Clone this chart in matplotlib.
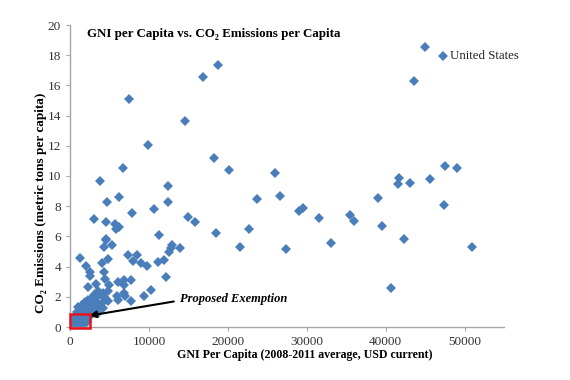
import matplotlib
matplotlib.use("Agg")
import matplotlib.pyplot as plt
from matplotlib.patches import Rectangle

# GNI per capita (USD) and CO2 emissions per capita (metric tons)
gni = [
    47300, 44980, 43550, 47500, 49040, 41700, 41560, 43130, 45580, 39030,
    47350, 35530, 35990, 39500, 42320, 50900, 40730,
    18740, 16880, 18230, 20130, 26040, 7470, 14600, 9875, 6670, 3800,
    12370, 6240, 4720, 12440, 7810, 10630, 3000, 4520, 15000, 15800,
    5650, 6240, 5780, 11310, 4560, 23760, 26670, 29080, 29540, 31520,
    18450, 22700, 21560, 27310, 33130,
    4600, 5270, 4260, 12870, 12790, 13890, 12570, 1310, 7300, 8440,
    4770, 8020, 8990, 11100, 11860, 4010, 1990, 9710, 2570, 2530,
    4260, 4470, 12150, 3250, 6120, 6840, 7760, 2320, 4940, 6880,
    10250, 9370, 7720, 6800, 6960, 5910, 6120, 4770, 4140, 3500,
    3080, 2750, 3580, 4430, 4850, 4010, 3170, 2320, 1900, 2660,
    3420, 1990, 1480, 1050, 1390, 2110, 2950, 850, 1680, 2530,
    3580, 630, 210, 1050, 420,
    300, 500, 700, 900, 1100, 1300, 1500, 1700, 1900, 2100,
    400, 800, 1200, 1600, 2000, 2300, 600, 1000, 1400, 1800,
    2200, 250, 750, 1250, 1750, 3000, 3300, 2800, 3800, 4200,
]
co2 = [
    17.98, 18.55, 16.30, 10.65, 10.56, 9.86, 9.44, 9.55, 9.79, 8.51,
    8.09, 7.43, 6.99, 6.66, 5.84, 5.28, 2.55,
    17.34, 16.57, 11.20, 10.41, 10.21, 15.09, 13.63, 12.02, 10.50, 9.70,
    9.32, 8.62, 8.26, 8.29, 7.58, 7.83, 7.12, 6.94, 7.27, 6.95,
    6.79, 6.61, 6.50, 6.06, 5.84, 8.46, 8.69, 7.70, 7.91, 7.20,
    6.21, 6.46, 5.28, 5.15, 5.53,
    5.73, 5.40, 5.31, 5.46, 5.24, 5.24, 4.95, 4.56, 4.74, 4.80,
    4.52, 4.40, 4.25, 4.32, 4.47, 4.25, 4.07, 4.03, 3.63, 3.41,
    3.66, 3.19, 3.30, 2.88, 2.97, 3.10, 3.10, 2.66, 2.75, 2.75,
    2.48, 2.04, 1.75, 2.26, 2.04, 2.04, 1.77, 2.37, 2.26, 2.37,
    2.15, 1.93, 2.04, 1.93, 1.71, 1.60, 1.71, 1.82, 1.64, 1.42,
    1.34, 1.27, 1.49, 1.34, 1.11, 1.05, 1.05, 0.98, 0.83, 0.76,
    0.94, 0.68, 0.38, 0.05, 0.10,
    0.20, 0.45, 0.15, 0.60, 0.30, 0.70, 0.25, 0.50, 0.80, 0.40,
    0.05, 0.35, 0.55, 0.10, 0.65, 0.85, 0.75, 0.20, 0.90, 1.20,
    0.30, 0.55, 0.65, 0.40, 1.30, 1.15, 0.95, 1.60, 1.45, 1.25,
]

x_ticks = [0, 10000, 20000, 30000, 40000, 50000]
y_ticks = [0, 2, 4, 6, 8, 10, 12, 14, 16, 18, 20]

us_gni, us_co2 = 47300, 17.98

SERIF = ["Liberation Serif", "DejaVu Serif"]
BLUE = "#4a7ebb"
GRAY = "#a6a6a6"

fig = plt.figure(figsize=(5.7, 3.8), dpi=100)
ax = fig.add_axes([70 / 570, 1 - 327 / 380, 434 / 570, 302 / 380])

ax.plot(gni, co2, linestyle="none", marker="D", markersize=5.2,
        color=BLUE, markeredgewidth=0)

ax.set_xlim(0, 55000)
ax.set_ylim(0, 20)
ax.set_xticks(x_ticks)
ax.set_yticks(y_ticks)

for side in ("top", "right"):
    ax.spines[side].set_visible(False)
for side in ("left", "bottom"):
    ax.spines[side].set_color(GRAY)
    ax.spines[side].set_linewidth(1.0)
ax.tick_params(colors=GRAY, length=3, width=0.8, labelcolor="#333333",
               labelsize=9.5)
for lab in ax.get_xticklabels() + ax.get_yticklabels():
    lab.set_family(SERIF)

ax.set_xlabel("GNI Per Capita (2008-2011 average, USD current)",
              family=SERIF, fontweight="bold", fontsize=8.6)
ax.xaxis.set_label_coords(0.54, -0.072)
ax.set_ylabel("CO₂ Emissions (metric tons per capita)",
              family=SERIF, fontweight="bold", fontsize=9.5)
ax.yaxis.set_label_coords(-0.052, 0.41)

fig.text(87 / 570, 1 - 34 / 380, "GNI per Capita vs. CO₂ Emissions per Capita",
         family=SERIF, fontweight="bold", fontsize=9.4, ha="left", va="center")

ax.text(us_gni + 800, us_co2, "United States", family=SERIF, fontsize=9.3,
        ha="left", va="center", color="#222222")

# red box around the exempted low-income countries
ax.add_patch(Rectangle((-50, -0.05), 2600, 0.9, fill=False,
                       edgecolor="#e8141c", linewidth=1.8, clip_on=False,
                       zorder=5))

ax.annotate("", xy=(2100, 0.72), xytext=(13500, 1.72),
            arrowprops=dict(arrowstyle="-|>", color="black", lw=1.5,
                            mutation_scale=10))
ax.text(13900, 1.88, "Proposed Exemption", family=SERIF, fontsize=9,
        fontweight="bold", style="italic", ha="left", va="center")

fig.savefig("out.png", dpi=100)
